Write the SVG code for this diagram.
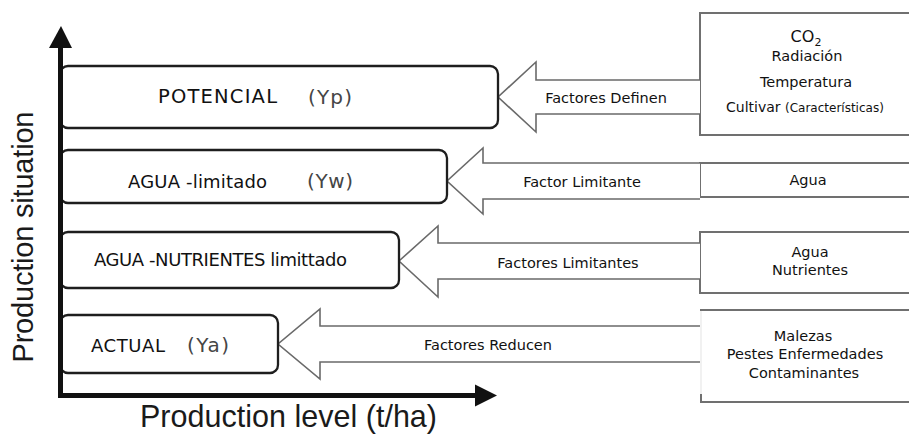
<svg xmlns="http://www.w3.org/2000/svg" width="909" height="441" viewBox="0 0 909 441">
<style>
.box{fill:#fff;stroke:#1e1e1e;stroke-width:2.3}
.arr{fill:#fff;stroke:#6a6a6a;stroke-width:1.6}
.rbox{fill:#fff;stroke:#707070;stroke-width:2}
.rline{fill:none;stroke:#707070;stroke-width:2}
.lbl{font-family:'DejaVu Sans',Verdana,sans-serif;font-size:18px;fill:#111}
.yv{font-family:'DejaVu Sans',Verdana,sans-serif;font-size:20px;fill:#454545}
.al{font-family:'DejaVu Sans',Verdana,sans-serif;font-size:14.5px;fill:#111;text-anchor:middle}
.axl{font-family:'Liberation Sans',Arial,sans-serif;fill:#1a1a1a}
</style>
<rect width="909" height="441" fill="#fff"/>

<g id="right-potencial">
<rect class="rbox" x="700" y="13" width="215" height="122"/>
<text class="al" x="806" y="42" style="font-size:16px">CO<tspan style="font-size:11px" dy="4">2</tspan></text>
<text class="al" x="807" y="61">Radiación</text>
<text class="al" x="806" y="87">Temperatura</text>
<text class="al" x="726" y="112" style="text-anchor:start;font-size:14px">Cultivar <tspan style="font-size:12px">(Características)</tspan></text>
</g>
<g id="right-agua">
<rect class="rbox" x="700" y="163" width="215" height="34"/>
<text class="al" x="808" y="185">Agua</text>
</g>
<g id="right-agua-nutrientes">
<rect class="rbox" x="700" y="232" width="215" height="61"/>
<text class="al" x="810" y="257">Agua</text>
<text class="al" x="810" y="275">Nutrientes</text>
</g>
<g id="right-reducen">
<rect x="700" y="310" width="215" height="92" fill="#fff"/>
<line x1="701" y1="311" x2="701" y2="394" stroke="#ececec" stroke-width="1.5"/>
<path class="rline" d="M700,310 H915 M701,394 V402 H915"/>
<text class="al" x="803" y="341">Malezas</text>
<text class="al" x="805" y="359">Pestes Enfermedades</text>
<text class="al" x="804" y="378">Contaminantes</text>
</g>

<g id="connectors">
<path class="arr" d="M700,80 H536 V62 L498,97 L536,132 V114 H700"/>
<path class="arr" d="M700,163 H483 V148 L447,181 L483,214 V199 H700"/>
<path class="arr" d="M700,243 H438 V226 L399,261 L438,297 V279 H700"/>
<path class="arr" d="M700,326 H320 V309 L278,344 L320,379 V362 H700"/>
<text class="al" x="606" y="103">Factores Definen</text>
<text class="al" x="582" y="187">Factor Limitante</text>
<text class="al" x="568" y="268">Factores Limitantes</text>
<text class="al" x="488" y="350">Factores Reducen</text>
</g>

<g id="potencial">
<rect class="box" x="60" y="66" width="438" height="62" rx="8"/>
<text class="lbl" x="158" y="103" style="font-size:19.5px" textLength="119">POTENCIAL</text>
<text class="yv" x="308" y="104" textLength="44">(Yp)</text>
</g>
<g id="agua-limitado">
<rect class="box" x="60" y="150" width="387" height="53" rx="8"/>
<text class="lbl" x="128" y="188" textLength="139">AGUA -limitado</text>
<text class="yv" x="307" y="188" textLength="46">(Yw)</text>
</g>
<g id="agua-nutrientes">
<rect class="box" x="60" y="232" width="339" height="56" rx="8"/>
<text class="lbl" x="94" y="266" textLength="253">AGUA -NUTRIENTES limittado</text>
</g>
<g id="actual">
<rect class="box" x="60" y="315" width="218" height="58" rx="8"/>
<text class="lbl" x="91" y="352" textLength="74">ACTUAL</text>
<text class="yv" x="187" y="352" textLength="42">(Ya)</text>
</g>

<g id="axes">
<line x1="60.5" y1="46" x2="60.5" y2="398" stroke="#111" stroke-width="5"/>
<polygon points="49,48 61,26 72,48" fill="#111"/>
<line x1="58" y1="395.5" x2="477" y2="395.5" stroke="#111" stroke-width="5"/>
<polygon points="475,384.5 497,395.5 475,406.5" fill="#111"/>
<text class="axl" transform="translate(33,237) rotate(-90)" text-anchor="middle" font-size="29" textLength="251">Production situation</text>
<text class="axl" x="140" y="427" font-size="30.5" textLength="297">Production level (t/ha)</text>
</g>
</svg>
